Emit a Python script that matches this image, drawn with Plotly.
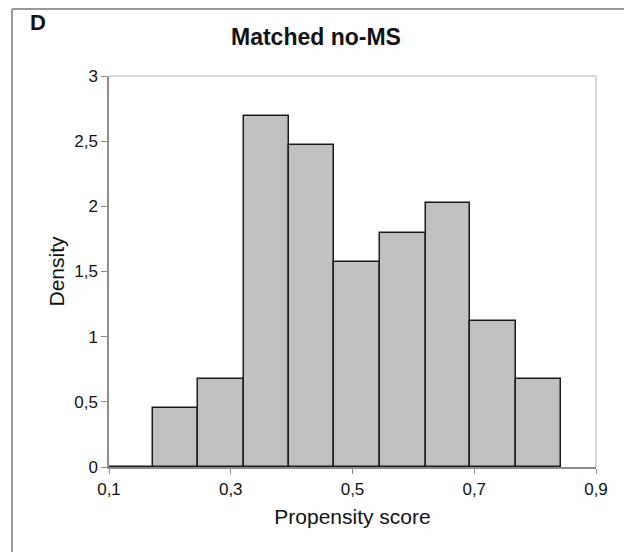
import plotly.graph_objects as go

# Histogram bin edges (propensity score) and densities
bin_edges = [0.100, 0.1718, 0.2467, 0.3213, 0.3962, 0.4701, 0.5452, 0.6202, 0.6935, 0.7681, 0.8425]
densities = [0.0, 0.449, 0.674, 2.696, 2.471, 1.573, 1.797, 2.022, 1.123, 0.674]

x_tick_vals = [0.1, 0.3, 0.5, 0.7, 0.9]
x_tick_text = ["0,1", "0,3", "0,5", "0,7", "0,9"]
y_tick_vals = [0, 0.5, 1, 1.5, 2, 2.5, 3]
y_tick_text = ["0", "0,5", "1", "1,5", "2", "2,5", "3"]

centers = [(a + b) / 2 for a, b in zip(bin_edges[:-1], bin_edges[1:])]
widths = [b - a for a, b in zip(bin_edges[:-1], bin_edges[1:])]

fig = go.Figure()
fig.add_trace(go.Bar(
    x=centers, y=densities, width=widths,
    marker=dict(color="#c0c0c0", line=dict(color="#1a1a1a", width=1.5)),
    hoverinfo="x+y",
))

font_family = "Liberation Sans, Arial, sans-serif"

# screen-pixel helpers (page has an 8px body offset; plot spans x 109..596, y 76..467)
def px(x):
    return (x - 109) / 487

def py(y):
    return (467 - y) / 391

fig.update_layout(
    width=624, height=544,
    margin=dict(l=101, r=36, t=68, b=85),
    paper_bgcolor="white", plot_bgcolor="white",
    showlegend=False,
    bargap=0,
    font=dict(family=font_family, size=17, color="#111111"),
    xaxis=dict(
        range=[0.1, 0.9], tickvals=x_tick_vals, ticktext=x_tick_text,
        showgrid=False, zeroline=False,
        showline=True, linecolor="#8c8c8c", linewidth=1.5, mirror=False,
        ticks="outside", ticklen=5, tickcolor="#8c8c8c",
        tickfont=dict(size=17), ticklabelstandoff=1,
        title=dict(text="Propensity score", font=dict(size=21), standoff=11),
    ),
    yaxis=dict(
        range=[0, 3], tickvals=y_tick_vals, ticktext=y_tick_text,
        showgrid=False, zeroline=False,
        showline=True, linecolor="#8c8c8c", linewidth=1.5,
        ticks="outside", ticklen=6, tickcolor="#8c8c8c",
        tickfont=dict(size=17), ticklabelstandoff=0,
        title=dict(text="Density", font=dict(size=21), standoff=4),
    ),
    shapes=[
        # light top/right plot border
        dict(type="line", xref="paper", yref="paper", x0=0, x1=1, y0=1, y1=1,
             line=dict(color="#cccccc", width=1.5), layer="below"),
        dict(type="line", xref="paper", yref="paper", x0=1, x1=1, y0=0, y1=1,
             line=dict(color="#cccccc", width=1.5), layer="below"),
        # outer figure frame
        dict(type="line", xref="paper", yref="paper",
             x0=px(12), x1=px(631), y0=py(9), y1=py(9),
             line=dict(color="#999999", width=2)),
        dict(type="line", xref="paper", yref="paper",
             x0=px(12), x1=px(12), y0=py(9), y1=py(552),
             line=dict(color="#999999", width=2)),
        dict(type="line", xref="paper", yref="paper",
             x0=px(630), x1=px(630), y0=py(9), y1=py(552),
             line=dict(color="#d0d0d0", width=2)),
    ],
    annotations=[
        dict(text="<b>Matched no-MS</b>", xref="paper", yref="paper",
             x=px(316), y=py(37), xanchor="center", yanchor="middle",
             showarrow=False, font=dict(size=23, family=font_family, color="#111111")),
        dict(text="<b>D</b>", xref="paper", yref="paper",
             x=px(28), y=py(22), xanchor="left", yanchor="middle",
             showarrow=False, font=dict(size=22, family=font_family, color="#111111")),
    ],
)

fig.write_html("out.html")
